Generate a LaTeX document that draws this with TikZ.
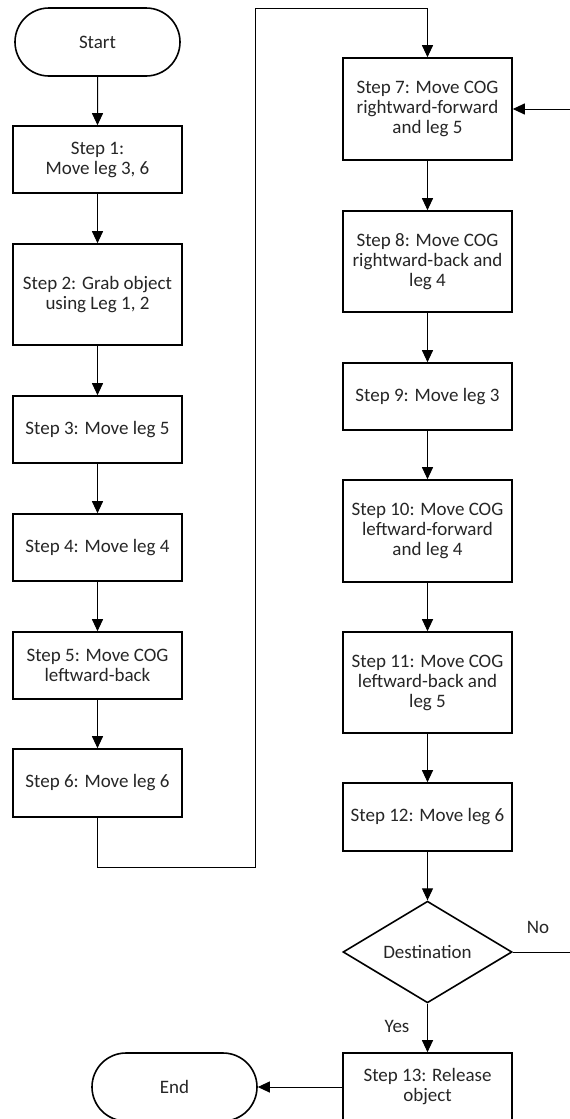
\documentclass[tikz,border=0pt]{standalone}
\usepackage{fontspec}
\setmainfont{Carlito}
\usetikzlibrary{shapes.geometric,shapes.misc,arrows.meta}
\begin{document}
\begin{tikzpicture}[x=1pt,y=-1pt,
  font=\fontsize{19}{20}\selectfont,
  every node/.style={text=black!85},
  stepbox/.style={draw=black, line width=1.6pt, rectangle, minimum width=169pt, align=center, inner sep=2pt},
  termbox/.style={draw=black, line width=1.6pt, rounded rectangle, minimum width=169pt, minimum height=68pt, inner sep=2pt},
  decbox/.style={draw=black, line width=1.6pt, diamond, minimum width=169pt, minimum height=100pt, inner sep=0pt},
  conn/.style={draw=black, line width=1pt},
  arr/.style={conn, -{Triangle[length=12pt,width=11pt]}},
  lbl/.style={inner sep=0pt}
]
\useasboundingbox[fill=white] (0,0) rectangle (570,1119);
% left column
\node[termbox] (start) at (97.5,42) {Start};
\node[stepbox, minimum height=67pt] (s1) at (97.5,159.5) {Step 1:\\Move leg 3, 6};
\node[stepbox, minimum height=101pt] (s2) at (97.5,294.5) {Step 2: Grab object\\using Leg 1, 2};
\node[stepbox, minimum height=67pt] (s3) at (97.5,429.5) {Step 3: Move leg 5};
\node[stepbox, minimum height=67pt] (s4) at (97.5,547.5) {Step 4: Move leg 4};
\node[stepbox, minimum height=67pt] (s5) at (97.5,665.5) {Step 5: Move COG\\leftward-back};
\node[stepbox, minimum height=68pt] (s6) at (97.5,783) {Step 6: Move leg 6};
% right column
\node[stepbox, minimum height=102pt] (s7) at (427.5,109) {Step 7: Move COG\\rightward-forward\\and leg 5};
\node[stepbox, minimum height=101pt] (s8) at (427.5,261.5) {Step 8: Move COG\\rightward-back and\\leg 4};
\node[stepbox, minimum height=67pt] (s9) at (427.5,396.5) {Step 9: Move leg 3};
\node[stepbox, minimum height=102pt] (s10) at (427.5,531) {Step 10: Move COG\\leftward-forward\\and leg 4};
\node[stepbox, minimum height=101pt] (s11) at (427.5,682.5) {Step 11: Move COG\\leftward-back and\\leg 5};
\node[stepbox, minimum height=68pt] (s12) at (427.5,817) {Step 12: Move leg 6};
\node[decbox] (dest) at (427.5,952) {Destination};
\node[stepbox, minimum height=68pt] (s13) at (427.5,1087) {Step 13: Release\\object};
\node[termbox] (end) at (174.5,1087) {End};
% labels
\node[lbl] (no) at (538,927) {No};
\node[lbl] (yes) at (397,1026) {Yes};
% helper coordinates
\coordinate (a1) at (97.5,867);
\coordinate (a2) at (255,867);
\coordinate (a3) at (255,8);
\coordinate (a4) at (427.5,8);
\coordinate (b1) at (571.5,952);
\coordinate (b2) at (571.5,109);
% connectors
\draw[arr] (start) -- (s1);
\draw[arr] (s1) -- (s2);
\draw[arr] (s2) -- (s3);
\draw[arr] (s3) -- (s4);
\draw[arr] (s4) -- (s5);
\draw[arr] (s5) -- (s6);
\draw[arr] (s6.south) -- (a1) -- (a2) -- (a3) -- (a4) -- (s7.north);
\draw[arr] (s7) -- (s8);
\draw[arr] (s8) -- (s9);
\draw[arr] (s9) -- (s10);
\draw[arr] (s10) -- (s11);
\draw[arr] (s11) -- (s12);
\draw[arr] (s12) -- (dest);
\draw[arr] (dest) -- (s13);
\draw[arr] (dest.east) -- (b1) -- (b2) -- (s7.east);
\draw[arr] (s13.west) -- (end.east);
\end{tikzpicture}
\end{document}
